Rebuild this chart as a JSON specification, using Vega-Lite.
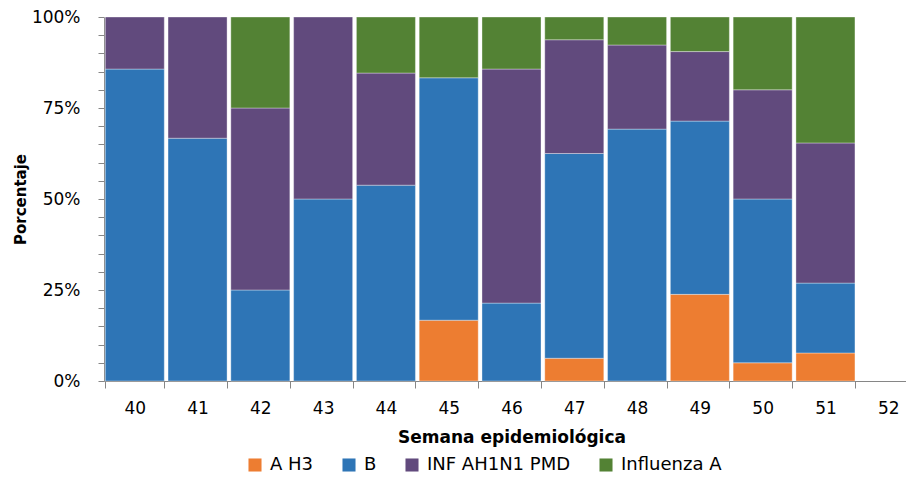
{
  "$schema": "https://vega.github.io/schema/vega-lite/v6.json",
  "width": 802,
  "height": 364,
  "autosize": {"type": "none"},
  "padding": {"left": 104, "top": 17, "right": 0, "bottom": 96},
  "background": "#ffffff",
  "config": {
    "view": {"stroke": null},
    "font": "DejaVu Sans",
    "axis": {"labelFont": "DejaVu Sans", "titleFont": "DejaVu Sans", "labelColor": "#000000", "titleColor": "#000000", "domainColor": "#868686", "tickColor": "#868686", "grid": false},
    "legend": {"labelFont": "DejaVu Sans"}
  },
  "data": {
    "values": [
      {"semana": "40", "tipo": "B", "valor": 85.7},
      {"semana": "40", "tipo": "INF AH1N1 PMD", "valor": 14.3},
      {"semana": "41", "tipo": "B", "valor": 66.7},
      {"semana": "41", "tipo": "INF AH1N1 PMD", "valor": 33.3},
      {"semana": "42", "tipo": "B", "valor": 25},
      {"semana": "42", "tipo": "INF AH1N1 PMD", "valor": 50},
      {"semana": "42", "tipo": "Influenza A", "valor": 25},
      {"semana": "43", "tipo": "B", "valor": 50},
      {"semana": "43", "tipo": "INF AH1N1 PMD", "valor": 50},
      {"semana": "44", "tipo": "B", "valor": 53.8},
      {"semana": "44", "tipo": "INF AH1N1 PMD", "valor": 30.8},
      {"semana": "44", "tipo": "Influenza A", "valor": 15.4},
      {"semana": "45", "tipo": "A H3", "valor": 16.7},
      {"semana": "45", "tipo": "B", "valor": 66.6},
      {"semana": "45", "tipo": "Influenza A", "valor": 16.7},
      {"semana": "46", "tipo": "B", "valor": 21.4},
      {"semana": "46", "tipo": "INF AH1N1 PMD", "valor": 64.3},
      {"semana": "46", "tipo": "Influenza A", "valor": 14.3},
      {"semana": "47", "tipo": "A H3", "valor": 6.25},
      {"semana": "47", "tipo": "B", "valor": 56.25},
      {"semana": "47", "tipo": "INF AH1N1 PMD", "valor": 31.25},
      {"semana": "47", "tipo": "Influenza A", "valor": 6.25},
      {"semana": "48", "tipo": "B", "valor": 69.2},
      {"semana": "48", "tipo": "INF AH1N1 PMD", "valor": 23.1},
      {"semana": "48", "tipo": "Influenza A", "valor": 7.7},
      {"semana": "49", "tipo": "A H3", "valor": 23.8},
      {"semana": "49", "tipo": "B", "valor": 47.6},
      {"semana": "49", "tipo": "INF AH1N1 PMD", "valor": 19.1},
      {"semana": "49", "tipo": "Influenza A", "valor": 9.5},
      {"semana": "50", "tipo": "A H3", "valor": 5},
      {"semana": "50", "tipo": "B", "valor": 45},
      {"semana": "50", "tipo": "INF AH1N1 PMD", "valor": 30},
      {"semana": "50", "tipo": "Influenza A", "valor": 20},
      {"semana": "51", "tipo": "A H3", "valor": 7.7},
      {"semana": "51", "tipo": "B", "valor": 19.2},
      {"semana": "51", "tipo": "INF AH1N1 PMD", "valor": 38.5},
      {"semana": "51", "tipo": "Influenza A", "valor": 34.6}
    ]
  },
  "transform": [
    {"calculate": "indexof(['A H3','B','INF AH1N1 PMD','Influenza A'], datum.tipo)", "as": "orden"}
  ],
  "mark": {"type": "bar", "stroke": "#ffffff", "strokeOpacity": 0.35, "strokeWidth": 1},
  "encoding": {
    "x": {
      "field": "semana",
      "type": "ordinal",
      "scale": {"domain": ["40","41","42","43","44","45","46","47","48","49","50","51","52"], "range": [0, 815], "paddingInner": 0.06, "paddingOuter": 0.02},
      "axis": {
        "title": "Semana epidemiológica",
        "titleFontSize": 17,
        "titleFontWeight": "bold",
        "titlePadding": 13,
        "labelAngle": 0,
        "labelFontSize": 17,
        "labelPadding": 12,
        "tickBand": "extent",
        "tickSize": 7
      }
    },
    "y": {
      "aggregate": "sum",
      "field": "valor",
      "type": "quantitative",
      "stack": "normalize",
      "scale": {"domain": [0, 1], "nice": false},
      "axis": {
        "title": "Porcentaje",
        "titleFontSize": 15,
        "titleFontWeight": "bold",
        "titlePadding": 3,
        "values": [0,0.05,0.1,0.15,0.2,0.25,0.3,0.35,0.4,0.45,0.5,0.55,0.6,0.65,0.7,0.75,0.8,0.85,0.9,0.95,1],
        "labelExpr": "abs(datum.value*4 - round(datum.value*4)) < 0.001 ? format(datum.value, '.0%') : ''",
        "labelFontSize": 17,
        "labelPadding": 18,
        "tickSize": 6
      }
    },
    "color": {
      "field": "tipo",
      "type": "nominal",
      "scale": {"domain": ["A H3","B","INF AH1N1 PMD","Influenza A"], "range": ["#ED7D31","#2E75B6","#614A7D","#538234"]},
      "legend": {
        "title": null,
        "orient": "none",
        "direction": "horizontal",
        "legendX": 142,
        "legendY": 439,
        "symbolType": "square",
        "symbolSize": 170,
        "symbolStrokeWidth": 0,
        "labelFontSize": 18,
        "labelLimit": 400,
        "labelOffset": 6,
        "columnPadding": 26
      }
    },
    "order": {"field": "orden", "type": "quantitative"}
  }
}
